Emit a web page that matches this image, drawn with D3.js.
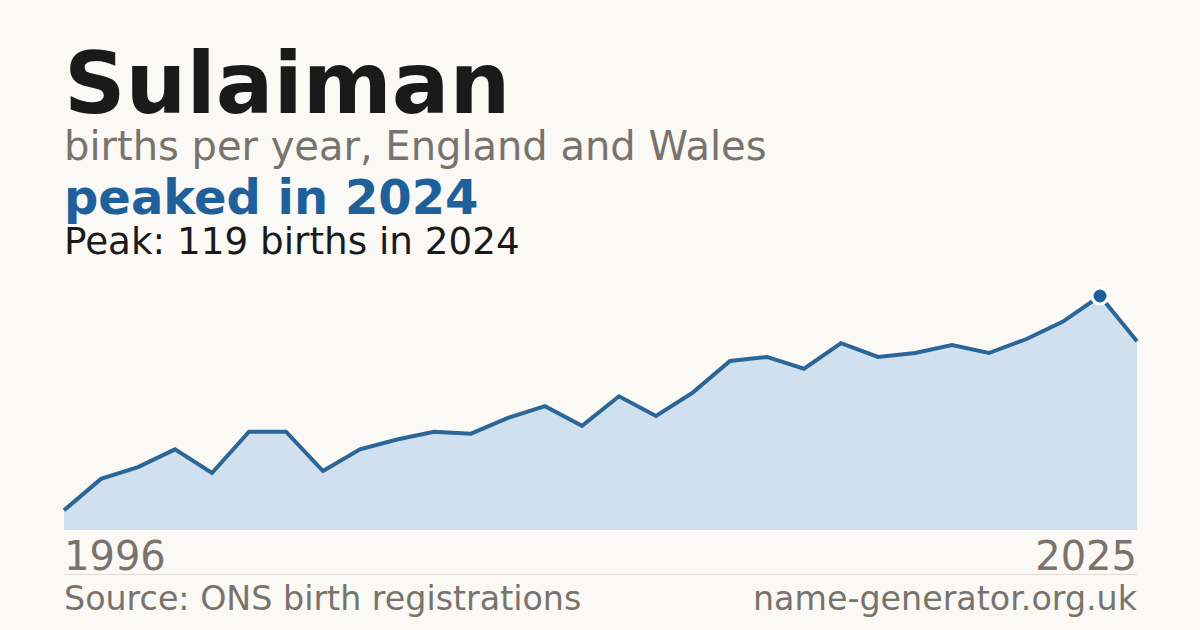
<!DOCTYPE html>
<html>
<head>
<meta charset="utf-8">
<script src="https://cdn.jsdelivr.net/npm/d3@7"></script>
<style>
  html, body { margin: 0; padding: 0; background: #faf9f5; }
  svg { display: block; font-family: "DejaVu Sans", sans-serif; }
</style>
</head>
<body>
<div id="chart"></div>
<script>
var width = 1200;
var height = 630;
let background = "#faf9f5";
let ink = "#1a1a1a";
let grey = "#78736d";
let blue = "#20609a";
let area_fill = "#d0e0ef";

// data
let years = [1996, 1997, 1998, 1999, 2000, 2001, 2002, 2003, 2004, 2005,
             2006, 2007, 2008, 2009, 2010, 2011, 2012, 2013, 2014, 2015,
             2016, 2017, 2018, 2019, 2020, 2021, 2022, 2023, 2024, 2025];
let births = [10, 26, 32, 41, 29, 50, 50, 30, 41, 46,
              50, 49, 57, 63, 53, 68, 58, 70, 86, 88,
              82, 95, 88, 90, 94, 90, 97, 106, 119, 96];
let axis_labels = ["1996", "2025"];

let name = "Sulaiman";
let subtitle = "births per year, England and Wales";
let headline = "peaked in 2024";
let peak_line = "Peak: 119 births in 2024";
let source = "Source: ONS birth registrations";
let site = "name-generator.org.uk";

var svg = d3.select("#chart").append("svg")
  .attr("width", width)
  .attr("height", height)
  .style("background", background);

//-------------------TEXTS--------------------
svg.append("text")
  .attr("x", 64).attr("y", 113)
  .attr("font-size", 85.5).attr("font-weight", "bold")
  .style("fill", ink)
  .text(name);

svg.append("text")
  .attr("x", 64).attr("y", 160)
  .attr("font-size", 40)
  .style("fill", grey)
  .text(subtitle);

svg.append("text")
  .attr("x", 64).attr("y", 214)
  .attr("font-size", 48).attr("font-weight", "bold")
  .style("fill", blue)
  .text(headline);

svg.append("text")
  .attr("x", 64).attr("y", 254)
  .attr("font-size", 37.3)
  .style("fill", ink)
  .text(peak_line);

//-------------------CHART--------------------
let data = years.map(function(y, i) { return {year: y, value: births[i]}; });

var x = d3.scaleLinear()
  .domain(d3.extent(years))
  .range([64, 1137]);

var y = d3.scaleLinear()
  .domain([0, d3.max(births)])
  .range([530, 296]);

var area = d3.area()
  .x(function(d) { return x(d.year); })
  .y0(y(0))
  .y1(function(d) { return y(d.value); });

var line = d3.line()
  .x(function(d) { return x(d.year); })
  .y(function(d) { return y(d.value); });

svg.append("path")
  .datum(data)
  .attr("d", area)
  .style("fill", area_fill);

svg.append("path")
  .datum(data)
  .attr("d", line)
  .style("fill", "none")
  .style("stroke", "#2b6699")
  .style("stroke-width", 4)
  .style("stroke-linejoin", "miter");

// peak marker
let peak = data.reduce(function(a, b) { return b.value > a.value ? b : a; });
svg.append("circle")
  .attr("cx", x(peak.year))
  .attr("cy", y(peak.value))
  .attr("r", 8)
  .style("fill", blue)
  .style("stroke", "#ffffff")
  .style("stroke-width", 3);

//-------------------AXIS--------------------
svg.append("text")
  .attr("x", x(years[0])).attr("y", 570)
  .attr("font-size", 40)
  .style("fill", grey)
  .text(axis_labels[0]);

svg.append("text")
  .attr("x", x(years[years.length - 1])).attr("y", 570)
  .attr("font-size", 40)
  .attr("text-anchor", "end")
  .style("fill", grey)
  .text(axis_labels[1]);

svg.append("line")
  .attr("x1", 64).attr("x2", 1137)
  .attr("y1", 574.5).attr("y2", 574.5)
  .style("stroke", "#dedbd5")
  .style("stroke-width", 1);

//-------------------FOOTER--------------------
svg.append("text")
  .attr("x", 64).attr("y", 610)
  .attr("font-size", 33.3)
  .style("fill", grey)
  .text(source);

svg.append("text")
  .attr("x", 1137).attr("y", 610)
  .attr("font-size", 33.3)
  .attr("text-anchor", "end")
  .style("fill", grey)
  .text(site);
</script>
</body>
</html>
